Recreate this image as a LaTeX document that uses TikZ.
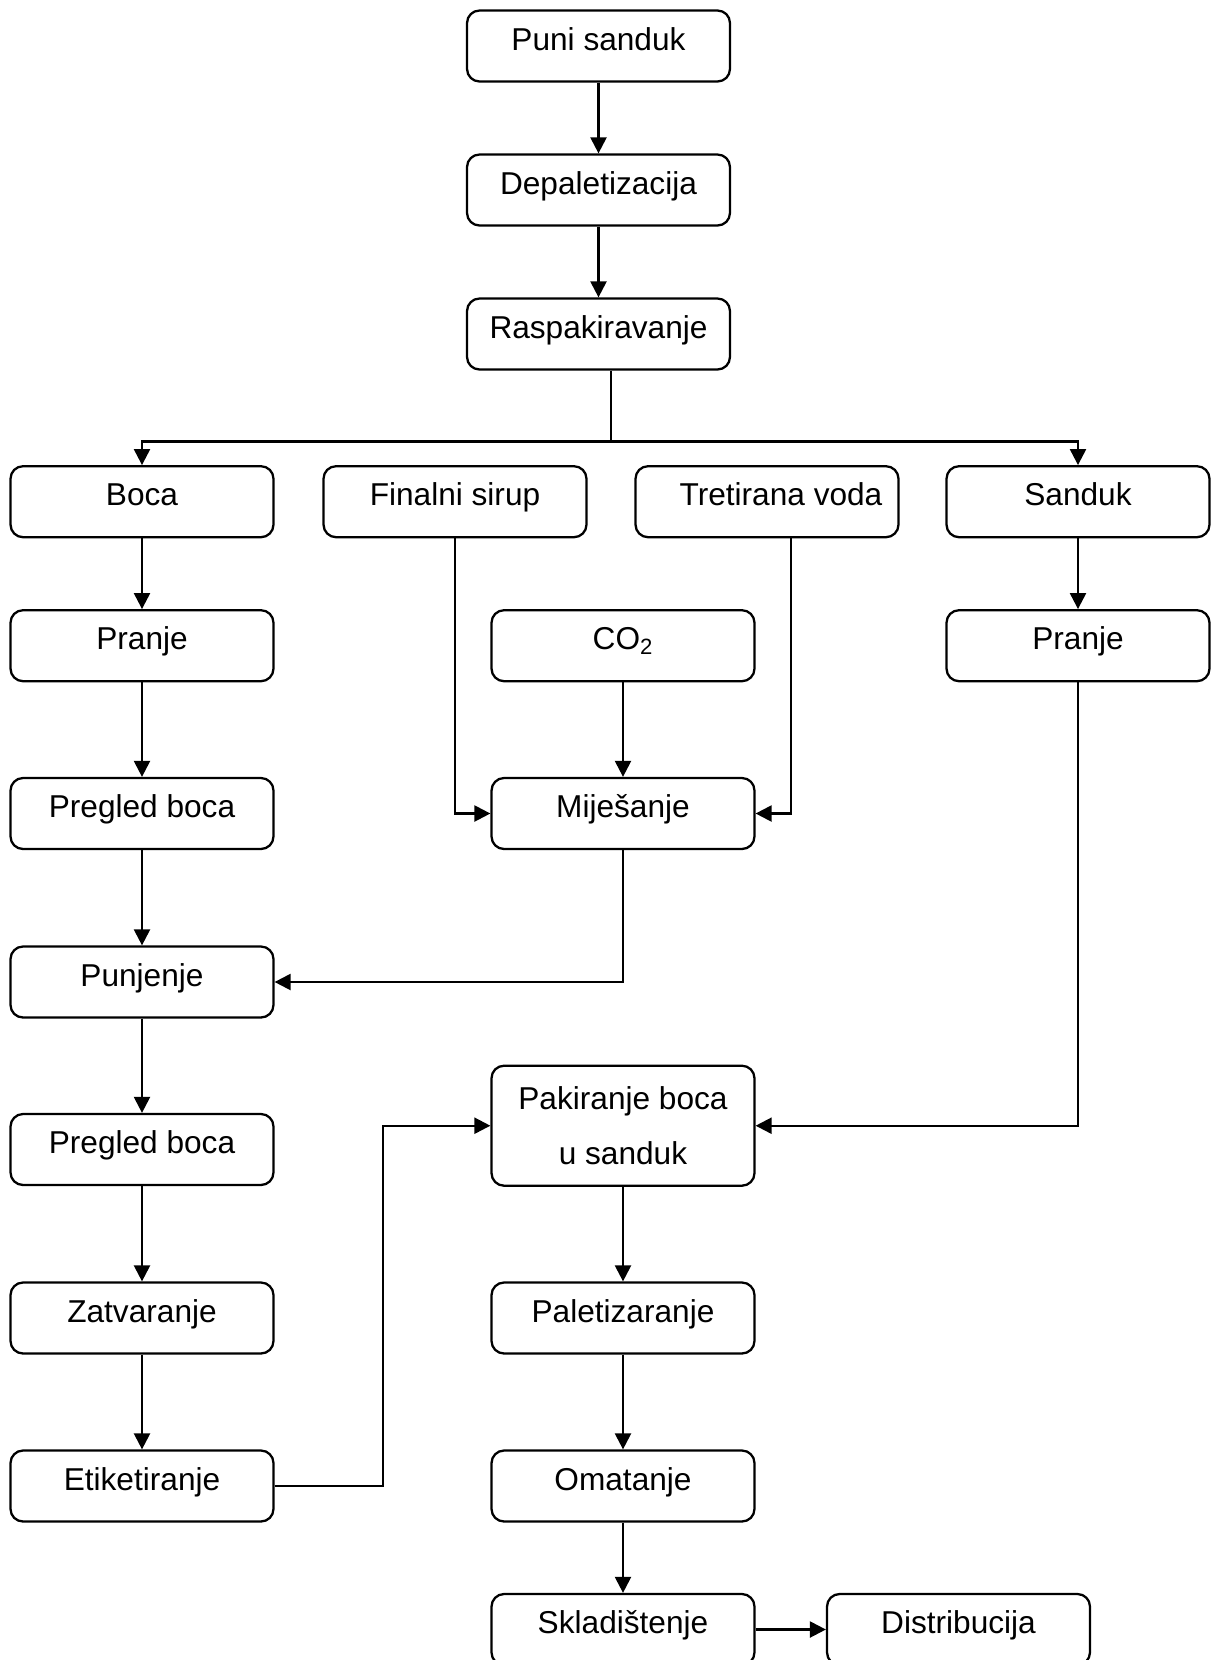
\documentclass[tikz,border=0pt]{standalone}
\usepackage{fontspec}
\setmainfont{Liberation Sans}
\usetikzlibrary{positioning,calc,arrows.meta}

\tikzset{
    proces/.style={draw, line width=1.3pt, rounded corners=0.25cm, minimum width=5.26cm, minimum height=1.42cm,
        inner sep=0pt, text height=0.79cm, text depth=0.63cm, font=\fontsize{18}{21}\selectfont},
    tok/.style={line width=1.3pt, -{Triangle[length=0.32cm,width=0.32cm]}},
    linija/.style={line width=1.3pt}
}

\begin{document}
\begin{tikzpicture}[x=0.02cm, y=-0.02cm]
    \useasboundingbox (0,0) rectangle (1213,1660);
    \clip (0,0) rectangle (1213,1660);

    % glavni tok
    \node[proces] (puni) at (598.5,46) {Puni sanduk};
    \node[proces] (depal) at (598.5,190) {Depaletizacija};
    \node[proces] (rasp) at (598.5,334) {Raspakiravanje};

    \node[proces] (boca) at (142,501.7) {Boca};
    \node[proces] (sirup) at (455,501.7) {Finalni sirup};
    \node[proces] (voda) at (767,501.7) {\hspace*{0.56cm}Tretirana voda};
    \node[proces] (sanduk) at (1078,501.7) {Sanduk};

    \node[proces] (pranjeB) at (142,645.7) {Pranje};
    \node[proces] (co2) at (623,645.7) {CO\textsubscript{2}};
    \node[proces] (pranjeS) at (1078,645.7) {Pranje};

    \node[proces] (pregled1) at (142,813.5) {Pregled boca};
    \node[proces] (mij) at (623,813.5) {Miješanje};
    \node[proces] (punj) at (142,982) {Punjenje};
    \node[proces, text height=, text depth=, minimum height=2.4cm, align=center,
        font=\fontsize{18}{31.2}\selectfont] (pak) at (623,1125.7) {Pakiranje boca\\u sanduk};
    \node[proces] (pregled2) at (142,1149.5) {Pregled boca};
    \node[proces] (zatv) at (142,1318) {Zatvaranje};
    \node[proces] (pal) at (623,1318) {Paletizaranje};
    \node[proces] (etik) at (142,1486) {Etiketiranje};
    \node[proces] (omat) at (623,1486) {Omatanje};
    \node[proces] (sklad) at (623,1629.5) {Skladištenje};
    \node[proces] (distr) at (958.5,1629.5) {Distribucija};

    \coordinate (razdjel) at (611,441.4);
    \coordinate (zaokret) at (383,1300);

    % veze
    \draw[tok] (puni) -- (depal);
    \draw[tok] (depal) -- (rasp);
    \draw[linija] (rasp.south -| razdjel) -- (razdjel);
    \draw[tok] (razdjel) -| (boca);
    \draw[tok] (razdjel) -| (sanduk);

    \draw[tok] (boca) -- (pranjeB);
    \draw[tok] (pranjeB) -- (pregled1);
    \draw[tok] (pregled1) -- (punj);
    \draw[tok] (punj) -- (pregled2);
    \draw[tok] (pregled2) -- (zatv);
    \draw[tok] (zatv) -- (etik);

    \draw[tok] (sirup) |- (mij);
    \draw[tok] ([xshift=0.48cm]voda.south) |- (mij);
    \draw[tok] (co2) -- (mij);
    \draw[tok] (mij) |- (punj);

    \draw[tok] (sanduk) -- (pranjeS);
    \draw[tok] (pranjeS) |- (pak);
    \draw[tok] (etik) -- (etik -| zaokret) |- (pak);

    \draw[tok] (pak) -- (pal);
    \draw[tok] (pal) -- (omat);
    \draw[tok] (omat) -- (sklad);
    \draw[tok] (sklad) -- (distr);
\end{tikzpicture}
\end{document}
